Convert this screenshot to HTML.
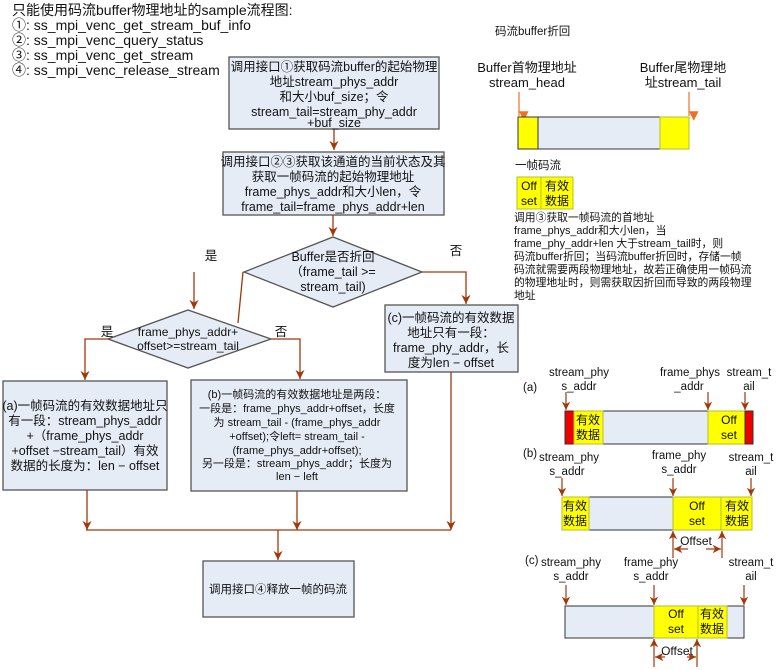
<!DOCTYPE html>
<html><head><meta charset="utf-8"><style>
html,body{margin:0;padding:0;background:#fff}
svg{display:block}
text{font-family:"Liberation Sans","Noto Sans CJK SC",sans-serif;fill:#111}
</style></head><body>
<svg width="779" height="670" viewBox="0 0 779 670" xmlns="http://www.w3.org/2000/svg">
<defs>
<marker id="ao" viewBox="0 0 8 8" markerWidth="8" markerHeight="8" refX="4" refY="8" orient="auto-start-reverse"><path d="M0,0 L8,4 L0,8 z" fill="#f07020"/></marker>
<marker id="ab" viewBox="0 0 10 10" markerWidth="7" markerHeight="7" refX="10" refY="5" orient="auto-start-reverse"><path d="M0,0 L10,5 L0,10 L3,5 z" fill="#a0380a"/></marker>
</defs>
<g font-size="14">
<text x="12" y="15">只能使用码流buffer物理地址的sample流程图:</text>
<text x="12" y="30">①: ss_mpi_venc_get_stream_buf_info</text>
<text x="12" y="45">②: ss_mpi_venc_query_status</text>
<text x="12" y="60">③: ss_mpi_venc_get_stream</text>
<text x="12" y="75">④: ss_mpi_venc_release_stream</text>
</g>
<g fill="#e6ecf6" stroke="#555" stroke-width="1.3">
<rect x="229" y="57" width="210" height="72"/>
<rect x="223" y="152" width="221" height="63"/>
<polygon points="333,237 422,272 333,307 244,272"/>
<polygon points="188,310 271,339 188,368 108,339"/>
<rect x="3" y="381" width="164" height="109"/>
<rect x="191" y="380" width="216" height="111"/>
<rect x="385" y="305" width="133" height="67"/>
<rect x="203" y="561" width="151" height="56"/>
</g>
<g stroke="#a0380a" stroke-width="1.3" fill="none">
<path d="M334,129 V150" marker-end="url(#ab)"/>
<path d="M333,215 V236" marker-end="url(#ab)"/>
<path d="M422,272 H466 V304" marker-end="url(#ab)"/>
<path d="M194,272 V309" marker-end="url(#ab)"/>
<path d="M243,272 L238,323"/>
<path d="M108,339 H85 V380" marker-end="url(#ab)"/>
<path d="M271,339 H300 V379" marker-end="url(#ab)"/>
<path d="M87,490 V530" marker-end="url(#ab)"/>
<path d="M297,491 V530" marker-end="url(#ab)"/>
<path d="M451,372 V530" marker-end="url(#ab)"/>
<path d="M86,530 H451"/>
<path d="M278,530 V560" marker-end="url(#ab)"/>
</g>
<g font-size="12.5" text-anchor="middle">
<text x="334" y="71">调用接口①获取码流buffer的起始物理</text>
<text x="334" y="86">地址stream_phys_addr</text>
<text x="334" y="101">和大小buf_size；令</text>
<text x="334" y="116">stream_tail=stream_phy_addr</text>
<text x="334" y="127">+buf_size</text>
<text x="333" y="166">调用接口②③获取该通道的当前状态及其</text>
<text x="333" y="181">获取一帧码流的起始物理地址</text>
<text x="333" y="196">frame_phys_addr和大小len，令</text>
<text x="333" y="211">frame_tail=frame_phys_addr+len</text>
<text x="333" y="261">Buffer是否折回</text>
<text x="333" y="276">（frame_tail &gt;=</text>
<text x="333" y="291">stream_tail)</text>
<text x="211" y="260">是</text>
<text x="456" y="255">否</text>
<text x="188" y="336" font-size="12">frame_phys_addr+</text>
<text x="188" y="350" font-size="12">offset&gt;=stream_tail</text>
<text x="107" y="336">是</text>
<text x="281" y="336">否</text>
<text x="85" y="410">(a)一帧码流的有效数据地址只</text>
<text x="85" y="425">有一段：stream_phys_addr</text>
<text x="85" y="440">+（frame_phys_addr</text>
<text x="85" y="455">+offset −stream_tail）有效</text>
<text x="85" y="470">数据的长度为：len − offset</text>
<text x="451" y="322">(c)一帧码流的有效数据</text>
<text x="451" y="337">地址只有一段：</text>
<text x="451" y="352">frame_phy_addr，长</text>
<text x="451" y="367">度为len − offset</text>
<text x="278" y="593" font-size="11.5">调用接口④释放一帧的码流</text>
</g>
<g font-size="11" text-anchor="middle">
<text x="297" y="398">(b)一帧码流的有效数据地址是两段：</text>
<text x="297" y="412">一段是：frame_phys_addr+offset，长度</text>
<text x="297" y="426">为 stream_tail - (frame_phys_addr</text>
<text x="297" y="440">+offset);令left= stream_tail -</text>
<text x="297" y="454">(frame_phys_addr+offset);</text>
<text x="297" y="467">另一段是：stream_phys_addr；长度为</text>
<text x="297" y="480">len − left</text>
</g>
<g font-size="11.5">
<text x="495" y="35">码流buffer折回</text>
<text x="527" y="72" text-anchor="middle" font-size="13">Buffer首物理地址</text>
<text x="527" y="87" text-anchor="middle" font-size="13">stream_head</text>
<text x="683" y="72" text-anchor="middle" font-size="13">Buffer尾物理地</text>
<text x="683" y="87" text-anchor="middle" font-size="13">址stream_tail</text>
<text x="515" y="169">一帧码流</text>
</g>
<g stroke="#f07020" stroke-width="1.2"><path d="M519,92 V116" marker-end="url(#ao)"/><path d="M689,92 V116" marker-end="url(#ao)"/></g>
<rect x="518" y="117" width="171" height="32" fill="#e6ecf6" stroke="#333"/>
<rect x="518" y="117" width="20" height="32" fill="#ffff00" stroke="#333"/>
<rect x="660" y="117" width="29" height="32" fill="#ffff00" stroke="#b0c030"/>
<g stroke="#b0c030" fill="#ffff00"><rect x="517" y="177" width="24" height="32"/><rect x="541" y="177" width="32" height="32"/></g>
<g font-size="12" text-anchor="middle">
<text x="529" y="190">Off</text><text x="529" y="205">set</text>
<text x="557" y="190">有效</text><text x="557" y="205">数据</text>
</g>
<g font-size="10.8">
<text x="514" y="221">调用③获取一帧码流的首地址</text>
<text x="514" y="234">frame_phys_addr和大小len，当</text>
<text x="514" y="247">frame_phy_addr+len 大于stream_tail时，则</text>
<text x="514" y="260">码流buffer折回；当码流buffer折回时，存储一帧</text>
<text x="514" y="273">码流就需要两段物理地址，故若正确使用一帧码流</text>
<text x="514" y="286">的物理地址时，则需获取因折回而导致的两段物理</text>
<text x="514" y="299">地址</text>
</g>
<g font-size="11.5">
<text x="523" y="391">(a)</text>
<text x="523" y="457">(b)</text>
<text x="525" y="564">(c)</text>
</g>
<g font-size="11.5" text-anchor="middle">
<text x="579" y="376">stream_phy</text><text x="579" y="390">s_addr</text>
<text x="690" y="376">frame_phys</text><text x="689" y="390">_addr</text>
<text x="749" y="376">stream_t</text><text x="749" y="390">ail</text>
<text x="569" y="461">stream_phy</text><text x="567" y="475">s_addr</text>
<text x="679" y="459">frame_phy</text><text x="679" y="473">s_addr</text>
<text x="751" y="461">stream_t</text><text x="751" y="475">ail</text>
<text x="571" y="566">stream_phy</text><text x="571" y="580">s_addr</text>
<text x="651" y="566">frame_phy</text><text x="651" y="580">s_addr</text>
<text x="751" y="566">stream_t</text><text x="751" y="580">ail</text>
</g>
<g stroke="#a0380a" stroke-width="1.2" fill="none">
<path d="M566,392 V410" marker-end="url(#ab)"/><path d="M708,392 V410" marker-end="url(#ab)"/><path d="M745,392 V410" marker-end="url(#ab)"/>
<path d="M562,478 V496" marker-end="url(#ab)"/><path d="M673,478 V496" marker-end="url(#ab)"/><path d="M751,478 V496" marker-end="url(#ab)"/>
<path d="M566,585 V605" marker-end="url(#ab)"/><path d="M654,585 V605" marker-end="url(#ab)"/><path d="M744,585 V605" marker-end="url(#ab)"/>
</g>
<rect x="565" y="411" width="188" height="33" fill="#e6ecf6" stroke="#333"/>
<rect x="565" y="411" width="9" height="33" fill="#ee0000" stroke="#333"/>
<rect x="574" y="411" width="29" height="33" fill="#ffff00" stroke="#b0c030"/>
<rect x="708" y="411" width="37" height="33" fill="#ffff00" stroke="#b0c030"/>
<rect x="745" y="411" width="8" height="33" fill="#ee0000" stroke="#333"/>
<rect x="562" y="497" width="190" height="33" fill="#e6ecf6" stroke="#333"/>
<rect x="562" y="497" width="27" height="33" fill="#ffff00" stroke="#b0c030"/>
<rect x="673" y="497" width="48" height="33" fill="#ffff00" stroke="#b0c030"/>
<rect x="721" y="497" width="31" height="33" fill="#ffff00" stroke="#b0c030"/>
<rect x="565" y="606" width="179" height="32" fill="#e6ecf6" stroke="#333"/>
<rect x="654" y="606" width="44" height="32" fill="#ffff00" stroke="#b0c030"/>
<rect x="698" y="606" width="29" height="32" fill="#ffff00" stroke="#b0c030"/>
<g font-size="12" text-anchor="middle">
<text x="588" y="424">有效</text><text x="588" y="439">数据</text>
<text x="729" y="424">Off</text><text x="729" y="439">set</text>
<text x="575" y="510">有效</text><text x="575" y="525">数据</text>
<text x="697" y="510">Off</text><text x="697" y="525">set</text>
<text x="737" y="510">有效</text><text x="737" y="525">数据</text>
<text x="676" y="618">Off</text><text x="676" y="633">set</text>
<text x="712" y="618">有效</text><text x="712" y="633">数据</text>
<text x="696" y="545">Offset</text>
<text x="677" y="655">Offset</text>
</g>
<g stroke="#a0380a" stroke-width="1.2" fill="none">
<path d="M673,558 V531" marker-end="url(#ab)"/><path d="M722,558 V531" marker-end="url(#ab)"/>
<path d="M688,549 H674" marker-end="url(#ab)"/><path d="M706,549 H721" marker-end="url(#ab)"/>
<path d="M654,667 V639" marker-end="url(#ab)"/><path d="M697,667 V639" marker-end="url(#ab)"/>
<path d="M665,657 H655" marker-end="url(#ab)"/><path d="M687,657 H696" marker-end="url(#ab)"/>
</g>
</svg>
</body></html>
